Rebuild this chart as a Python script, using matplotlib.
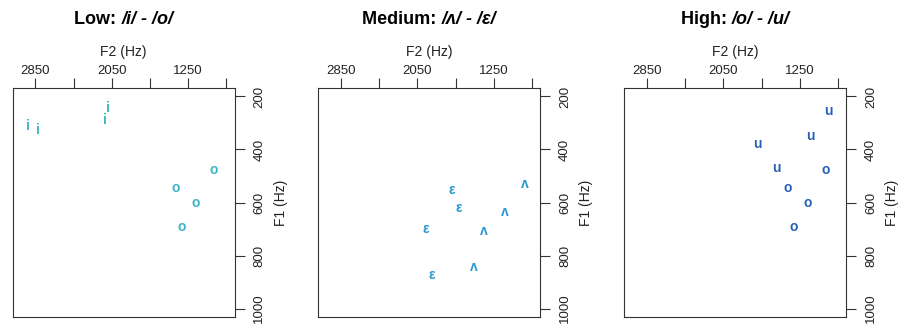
import matplotlib
matplotlib.use("Agg")
import matplotlib.pyplot as plt

plt.rcParams['font.family'] = ['Liberation Sans', 'DejaVu Sans']

# panel titles: upright part + italic phonetic part
titles = ['Low: ', 'Medium: ', 'High: ']
title_ipa = ['/i/ - /o/', '/ʌ/ - /ε/', '/o/ - /u/']
colors = ['#3bb5c9', '#2a97cf', '#2761b5']

# Low: /i/ - /o/
low_lab = ['i', 'i', 'i', 'i', 'o', 'o', 'o', 'o']
low_f2 = [2926, 2826, 2095, 2120, 979, 1379, 1173, 1316]
low_f1 = [313, 325, 244, 290, 478, 544, 603, 692]

# Medium: /ʌ/ - /ε/
med_lab = ['ε', 'ε', 'ε', 'ε', 'ʌ', 'ʌ', 'ʌ', 'ʌ']
med_f2 = [1692, 1615, 1963, 1900, 927, 1139, 1355, 1456]
med_f1 = [551, 620, 701, 873, 532, 635, 707, 845]

# High: /o/ - /u/
high_lab = ['u', 'u', 'u', 'u', 'o', 'o', 'o', 'o']
high_f2 = [955, 1139, 1696, 1493, 979, 1379, 1173, 1316]
high_f1 = [256, 350, 378, 469, 478, 544, 603, 692]

x_ticks = [2850, 2450, 2050, 1650, 1250, 850]
x_ticklabels = ['2850', '', '2050', '', '1250', '']
y_ticks = [200, 400, 600, 800, 1000]

panels = [(low_lab, low_f2, low_f1), (med_lab, med_f2, med_f1),
          (high_lab, high_f2, high_f1)]

fig = plt.figure(figsize=(9.01, 3.27), dpi=100)
lefts = [12.7, 318.3, 624.3]
W, H = 901, 327
box_w, box_top, box_bot = 222.0, 88, 317

axes = []
for i, (labs, f2, f1) in enumerate(panels):
    ax = fig.add_axes([lefts[i] / W, (H - box_bot) / H, box_w / W, (box_bot - box_top) / H])
    ax.set_xlim(3086, 764)
    ax.set_ylim(1032, 168)
    for lab, x, y in zip(labs, f2, f1):
        ax.text(x, y, lab, ha='center', va='center', fontsize=10,
                fontweight='bold', color=colors[i])
    ax.xaxis.tick_top()
    ax.yaxis.tick_right()
    ax.set_xticks(x_ticks)
    ax.set_xticklabels(x_ticklabels)
    ax.set_yticks(y_ticks)
    ax.set_yticklabels([str(v) for v in y_ticks], rotation=90, va='center')
    ax.tick_params(axis='x', length=7.5, width=0.8, pad=0.5, labelsize=9.5,
                   colors='#333333', labelcolor='#222222')
    ax.tick_params(axis='y', length=7.5, width=0.8, pad=6, labelsize=9.5,
                   colors='#333333', labelcolor='#222222')
    for s in ax.spines.values():
        s.set_linewidth(0.8)
        s.set_color('#333333')
    ax.text(0.5, 1 + (box_top - 51.7) / (box_bot - box_top), 'F2 (Hz)',
            transform=ax.transAxes, ha='center', va='center', fontsize=10, color='#222222')
    ax.text(1 + (281 - 235) / box_w, 0.5, 'F1 (Hz)', transform=ax.transAxes,
            ha='center', va='center', rotation=90, fontsize=10, color='#222222')
    axes.append(ax)

# titles: measure both parts, then center the pair over each box
fig.canvas.draw()
r = fig.canvas.get_renderer()
for i, ax in enumerate(axes):
    cx = (lefts[i] + box_w / 2) / W
    ty = 1 - 20 / H
    t1 = fig.text(0, ty, titles[i], fontsize=13, fontweight='bold', va='center')
    t2 = fig.text(0, ty, title_ipa[i], fontsize=13, fontweight='bold',
                  style='italic', va='center')
    w1 = t1.get_window_extent(r).width / W
    w2 = t2.get_window_extent(r).width / W
    x0 = cx - (w1 + w2) / 2
    t1.set_x(x0)
    t2.set_x(x0 + w1)

fig.savefig('out.png', dpi=100)
